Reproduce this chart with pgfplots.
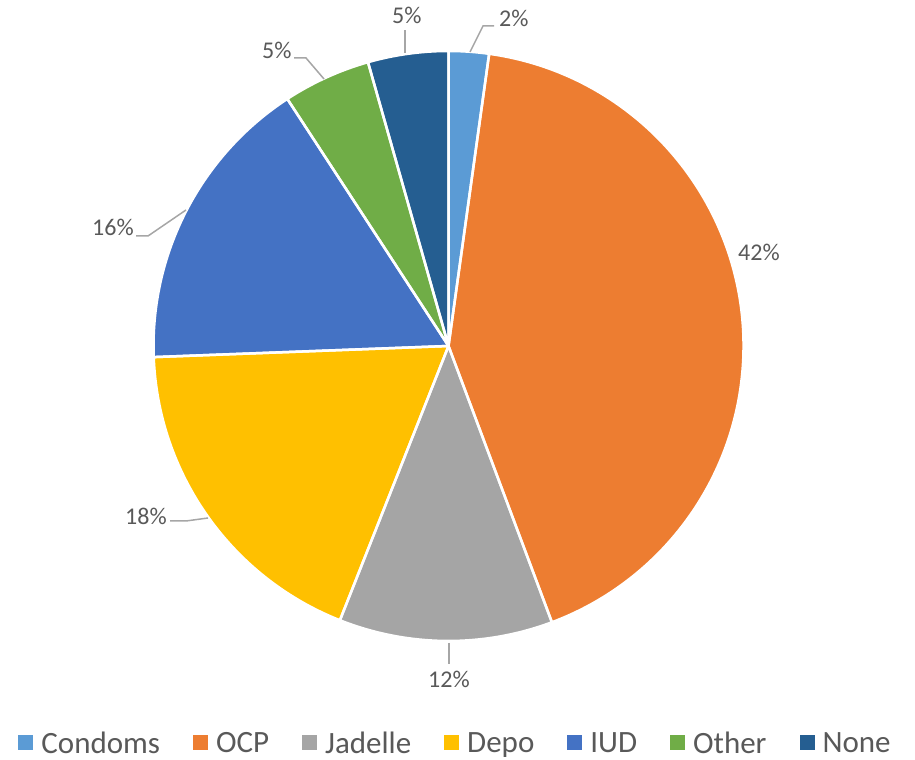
\documentclass[border=0pt]{standalone}
\usepackage{pgfplots}
\pgfplotsset{compat=1.18}
\usepackage{pgfplotstable}
\usepackage{fontspec}
\setmainfont{Carlito}

\definecolor{condoms}{HTML}{5B9BD5}
\definecolor{ocp}{HTML}{ED7D31}
\definecolor{jadelle}{HTML}{A5A5A5}
\definecolor{depo}{HTML}{FFC000}
\definecolor{iud}{HTML}{4472C4}
\definecolor{other}{HTML}{70AD47}
\definecolor{nonecol}{HTML}{255E91}
\definecolor{labelgray}{HTML}{595959}
\definecolor{leadergray}{HTML}{A6A6A6}

% share of each method, in percent, clockwise from 12 o'clock
\pgfplotstableread{
name    value  color
Condoms 2.2    condoms
OCP     42.1   ocp
Jadelle 11.7   jadelle
Depo    18.4   depo
IUD     16.4   iud
Other   4.8    other
None    4.4    nonecol
}\piedata

\newcommand\lbl{\fontsize{24bp}{28bp}\selectfont}

\begin{document}
\begin{tikzpicture}
\begin{axis}[
    hide axis,
    scale only axis,
    width=915bp, height=760bp,
    xmin=0, xmax=915, ymin=0, ymax=760,
    legend image code/.code={\fill[#1, draw=none] (0bp,-7bp) rectangle (15bp,8bp);},
    legend style={
        at={(axis cs:455.5,1)}, anchor=south,
        draw=none, fill=none,
        legend columns=-1,
        font=\fontsize{31bp}{34bp}\selectfont,
        text=labelgray,
        /tikz/every odd column/.append style={column sep=6bp},
        /tikz/every even column/.append style={column sep=31bp},
    },
]
\def\cx{448.5}\def\cy{414}\def\R{295}
\def\startang{90}
\def\borders{}
\pgfplotsforeachungrouped \i in {0,...,6}{%
    \pgfplotstablegetelem{\i}{value}\of\piedata \let\sliceval\pgfplotsretval
    \pgfplotstablegetelem{\i}{color}\of\piedata \let\slicecol\pgfplotsretval
    \pgfmathsetmacro\endang{\startang-3.6*\sliceval}%
    \edef\temp{\noexpand\fill[\slicecol] (axis cs:\cx,\cy) -- ([shift={(\startang:\R bp)}]axis cs:\cx,\cy)
        arc[start angle=\startang, end angle=\endang, radius=\R bp] -- cycle;}%
    \temp
    \edef\borders{\unexpanded\expandafter{\borders}\noexpand\draw[white, line width=2.5bp, line join=round]
        (axis cs:\cx,\cy) -- ([shift={(\startang:\R bp)}]axis cs:\cx,\cy)
        arc[start angle=\startang, end angle=\endang, radius=\R bp] -- cycle;}%
    \let\startang\endang
}
\borders

% leader lines
\draw[leadergray, line width=1.5bp] (axis cs:470,708) -- (axis cs:483,734) -- (axis cs:494,734);
\draw[leadergray, line width=1.5bp] (axis cs:405,707) -- (axis cs:405,730);
\draw[leadergray, line width=1.5bp] (axis cs:324,681) -- (axis cs:306,702) -- (axis cs:294,702);
\draw[leadergray, line width=1.5bp] (axis cs:186,550) -- (axis cs:148,524) -- (axis cs:136,524);
\draw[leadergray, line width=1.5bp] (axis cs:208,242) -- (axis cs:186,239) -- (axis cs:170,239);
\draw[leadergray, line width=1.5bp] (axis cs:449,117) -- (axis cs:449,96);

% data labels
\begin{scope}[every node/.style={anchor=base west, inner sep=0pt, font=\lbl, text=labelgray}]
\node at (axis cs:499,733) {2\%};
\node at (axis cs:738,499) {42\%};
\node at (axis cs:428,72) {12\%};
\node at (axis cs:125,235) {18\%};
\node at (axis cs:92,524) {16\%};
\node at (axis cs:262,701) {5\%};
\node at (axis cs:392,736) {5\%};
\end{scope}

\addlegendimage{fill=condoms}
\addlegendimage{fill=ocp}
\addlegendimage{fill=jadelle}
\addlegendimage{fill=depo}
\addlegendimage{fill=iud}
\addlegendimage{fill=other}
\addlegendimage{fill=nonecol}
\legend{Condoms,OCP,Jadelle,Depo,IUD,Other,None}
\end{axis}
\pgfresetboundingbox
\path (current axis.south west) rectangle (current axis.north east);
\end{tikzpicture}
\end{document}
